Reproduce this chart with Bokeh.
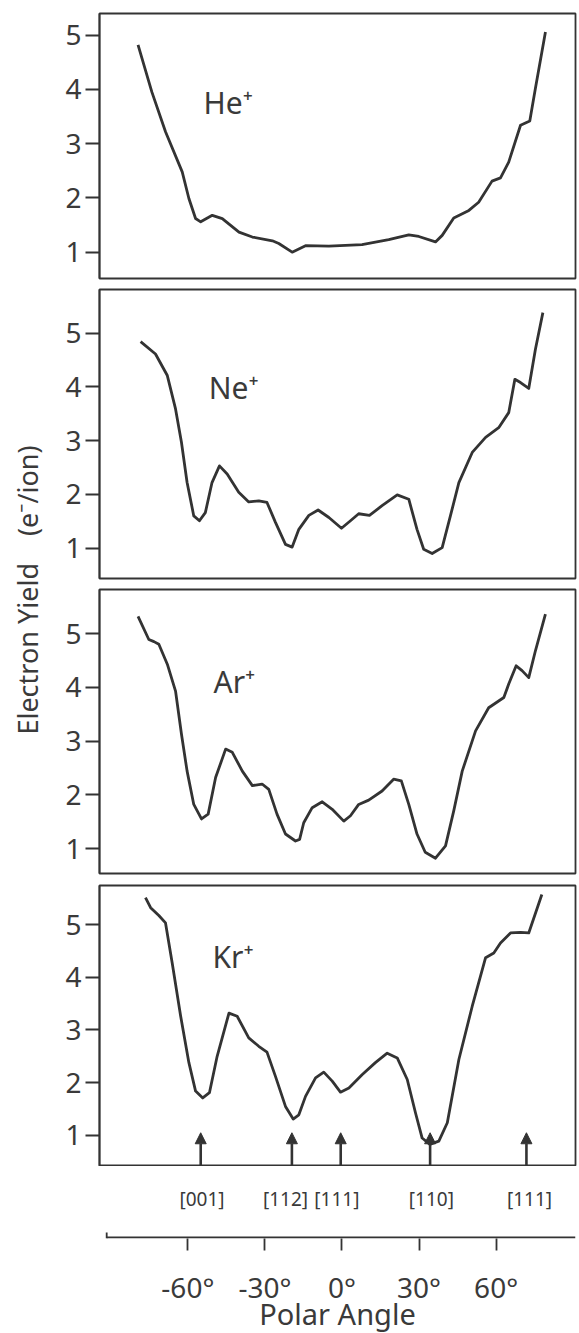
from bokeh.plotting import figure
from bokeh.layouts import row, column
from bokeh.models import ColumnDataSource, FixedTicker, Arrow, NormalHead
from bokeh.core.properties import value
from bokeh.embed import file_html
from bokeh.resources import INLINE

# ---------------- data ----------------
he_angle = [-79.4, -74.0, -68.7, -62.2, -59.6, -57.0, -55.0, -50.5, -46.6, -40.1, -34.9, -27.1, -24.6,
            -19.4, -14.2, -5.1, 7.8, 18.2, 26.0, 29.9, 36.4, 39.0, 43.5, 49.4, 53.2, 58.4, 61.7, 64.9,
            69.5, 73.1, 75.3, 79.2]
he_yield = [4.82, 3.95, 3.22, 2.48, 1.99, 1.62, 1.56, 1.68, 1.62, 1.37, 1.28, 1.21, 1.16,
            1.00, 1.12, 1.11, 1.14, 1.23, 1.32, 1.29, 1.19, 1.31, 1.63, 1.77, 1.92, 2.31, 2.37, 2.66,
            3.34, 3.42, 4.02, 5.06]

ne_angle = [-78.4, -72.6, -68.0, -64.8, -62.5, -60.3, -57.7, -55.5, -53.2, -50.6, -47.7, -44.7, -40.2,
            -36.3, -32.4, -29.2, -25.9, -22.0, -19.4, -16.8, -12.9, -9.3, -5.1, -0.2, 3.3, 6.5, 10.7,
            15.6, 21.5, 26.0, 29.2, 31.8, 35.1, 39.0, 42.2, 45.5, 50.7, 55.9, 61.0, 64.9, 67.3, 69.5,
            72.7, 75.3, 78.2]
ne_yield = [4.84, 4.61, 4.21, 3.59, 2.97, 2.22, 1.60, 1.51, 1.66, 2.22, 2.53, 2.38, 2.04,
            1.86, 1.88, 1.85, 1.48, 1.07, 1.02, 1.35, 1.61, 1.71, 1.57, 1.37, 1.51, 1.64, 1.61,
            1.79, 1.99, 1.91, 1.35, 0.98, 0.90, 1.01, 1.60, 2.22, 2.78, 3.06, 3.24, 3.52, 4.14, 4.08,
            3.97, 4.70, 5.38]

ar_angle = [-79.4, -75.2, -73.2, -71.3, -68.0, -64.8, -62.5, -60.3, -57.7, -54.7, -52.1, -49.2, -45.3,
            -42.7, -38.8, -34.9, -31.1, -28.5, -25.3, -22.0, -18.1, -16.5, -14.9, -11.6, -7.7, -3.8,
            0.7, 3.3, 6.5, 10.4, 15.6, 20.1, 23.1, 26.0, 29.2, 32.4, 36.4, 40.3, 43.5, 46.8, 52.0,
            57.1, 63.0, 64.9, 67.8, 70.1, 72.7, 75.3, 79.2]
ar_yield = [5.32, 4.89, 4.85, 4.80, 4.43, 3.93, 3.13, 2.44, 1.82, 1.55, 1.64, 2.32, 2.85,
            2.79, 2.44, 2.17, 2.20, 2.10, 1.64, 1.27, 1.14, 1.17, 1.48, 1.76, 1.87, 1.73,
            1.51, 1.61, 1.82, 1.90, 2.07, 2.29, 2.26, 1.82, 1.27, 0.93, 0.82, 1.05, 1.70, 2.44, 3.19,
            3.62, 3.81, 4.06, 4.40, 4.31, 4.18, 4.68, 5.36]

kr_angle = [-76.5, -74.5, -71.3, -68.7, -66.1, -62.8, -59.6, -57.0, -54.2, -51.6, -48.6, -44.0, -40.8,
            -36.3, -32.4, -29.2, -25.9, -22.0, -19.0, -16.8, -14.2, -10.3, -7.1, -3.8, -0.6, 2.7,
            7.8, 13.0, 17.6, 21.5, 25.4, 28.6, 31.2, 34.2, 37.7, 41.0, 45.5, 50.7, 55.9, 59.1, 61.7,
            65.6, 69.5, 72.7, 77.8]
kr_yield = [5.51, 5.32, 5.17, 5.03, 4.27, 3.26, 2.38, 1.84, 1.71, 1.81, 2.50, 3.32, 3.26,
            2.85, 2.69, 2.58, 2.12, 1.55, 1.31, 1.39, 1.74, 2.09, 2.20, 2.03, 1.82, 1.90,
            2.15, 2.38, 2.56, 2.47, 2.06, 1.43, 0.95, 0.83, 0.89, 1.24, 2.44, 3.45, 4.37, 4.46, 4.65,
            4.84, 4.85, 4.84, 5.57]

ion_names = ["He⁺", "Ne⁺", "Ar⁺", "Kr⁺"]
y_ticks = [1, 2, 3, 4, 5]

direction_angle = [-55.0, -19.5, -0.5, 34.3, 71.8]
direction_label = ["[001]", "[112]", "[111]", "[110]", "[111]"]
direction_label_angle = [-54.5, -22.0, -2.0, 34.8, 73.0]
arrow_tip_yield = 1.05

x_ticks = [-60, -30, 0, 30, 60]
x_tick_labels = ["-60°", "-30°", "0°", "30°", "60°"]
x_axis_extent = [-91.6, 90.9]

y_label = "Electron Yield\u2003(e⁻/ion)"
x_label = "Polar Angle"

# ---------------- style ----------------
FONT = "Noto Sans"
INK = "#333333"
TXT = "#3a3a3a"
LABEL_W = 50
BORDER_L = 99 - LABEL_W
PANEL_X = (-94.4, 90.9)
TOTAL_H = 1333
YLABEL_CENTER = 589.5

panel_specs = [
    # (angles, yields, y_range, frame_h, border_top, border_bottom, label_xy)
    (he_angle, he_yield, (0.515, 5.40), 265, 13, 5, (-53.9, 3.76)),
    (ne_angle, ne_yield, (0.436, 5.81), 289, 6, 5, (-51.9, 3.99)),
    (ar_angle, ar_yield, (0.535, 5.82), 284, 6, 6, (-50.0, 4.11)),
    (kr_angle, kr_yield, (0.41, 5.74), 281, 6, 0, (-50.4, 4.40)),
]

panels = []
for i, (ang, yl, yr, fh, bt, bb, lxy) in enumerate(panel_specs):
    p = figure(frame_width=476, frame_height=fh, x_range=PANEL_X, y_range=yr,
               x_axis_location=None, y_axis_location="left",
               toolbar_location=None, output_backend="svg",
               min_border_left=BORDER_L, min_border_right=4,
               min_border_top=bt, min_border_bottom=bb)
    p.grid.visible = False
    p.outline_line_color = INK
    p.outline_line_width = 1.8
    p.background_fill_color = "white"
    p.border_fill_color = "white"
    ax = p.yaxis[0]
    ax.ticker = FixedTicker(ticks=y_ticks)
    ax.major_tick_out = 14
    ax.major_tick_in = 0
    ax.minor_tick_line_color = None
    ax.major_tick_line_color = INK
    ax.major_tick_line_width = 1.8
    ax.axis_line_color = INK
    ax.axis_line_width = 1.8
    ax.major_label_standoff = 4
    ax.major_label_text_font = FONT
    ax.major_label_text_font_size = "28px"
    ax.major_label_text_color = TXT
    ax.axis_label_standoff = 0
    ax.axis_label_text_font_size = "0px"

    src = ColumnDataSource(dict(angle=ang, yld=yl))
    p.line("angle", "yld", source=src, line_color=INK, line_width=2.8, line_join="round")

    p.text(x=[lxy[0]], y=[lxy[1]], text=[ion_names[i]], text_font=value(FONT),
           text_font_size="30px", text_color=TXT, text_align="left",
           text_baseline="alphabetic")

    if i == 3:
        asrc = ColumnDataSource(dict(x0=direction_angle, y0=[yr[0]] * len(direction_angle),
                                     x1=direction_angle, y1=[arrow_tip_yield] * len(direction_angle)))
        p.add_layout(Arrow(source=asrc, x_start="x0", y_start="y0", x_end="x1", y_end="y1",
                           line_color=INK, line_width=2.6,
                           end=NormalHead(size=11, fill_color=INK, line_color=INK, line_width=1)))
    panels.append(p)

# bottom axis figure
pb = figure(frame_width=476, frame_height=72, x_range=PANEL_X, y_range=(-1, 71),
            y_axis_location=None, x_axis_location="below",
            toolbar_location=None, output_backend="svg",
            min_border_left=BORDER_L, min_border_right=4, min_border_top=0, min_border_bottom=95)
pb.grid.visible = False
pb.outline_line_color = None
xa = pb.xaxis[0]
xa.ticker = FixedTicker(ticks=x_ticks)
xa.major_label_overrides = {t: s for t, s in zip(x_ticks, x_tick_labels)}
xa.major_tick_out = 12
xa.major_tick_in = 0
xa.minor_tick_line_color = None
xa.major_tick_line_color = INK
xa.major_tick_line_width = 1.8
xa.axis_line_color = None
xa.major_label_standoff = 17
xa.major_label_text_font = FONT
xa.major_label_text_font_size = "28px"
xa.major_label_text_color = TXT
xa.axis_label = x_label
xa.axis_label_text_font = FONT
xa.axis_label_text_font_size = "29px"
xa.axis_label_text_font_style = "normal"
xa.axis_label_text_color = TXT
xa.axis_label_standoff = -15
pb.segment(x0=[x_axis_extent[0]], y0=[0], x1=[x_axis_extent[1]], y1=[0], line_color=INK, line_width=1.8)
pb.segment(x0=[x_axis_extent[0]], y0=[-1], x1=[x_axis_extent[0]], y1=[5], line_color=INK, line_width=1.8)
pb.text(x=direction_label_angle, y=[39] * 5, text=direction_label, text_font=value(FONT),
        text_font_size="19px", text_color=TXT, text_align="center", text_baseline="middle")

# y label: an axis label on a thin figure to the left
pl = figure(width=LABEL_W, height=TOTAL_H, x_range=(0, 1), y_range=(0, 1),
            x_axis_location=None, y_axis_location="left", toolbar_location=None,
            output_backend="svg", min_border_left=45, min_border_right=0,
            min_border_top=0, min_border_bottom=int(TOTAL_H - 2 * YLABEL_CENTER))
pl.grid.visible = False
pl.outline_line_color = None
ya = pl.yaxis[0]
ya.ticker = FixedTicker(ticks=[])
ya.axis_line_color = None
ya.major_tick_line_color = None
ya.minor_tick_line_color = None
ya.major_label_text_font_size = "0px"
ya.major_label_standoff = 0
ya.major_tick_out = 0
ya.axis_label = y_label
ya.axis_label_standoff = 0
ya.axis_label_text_font = FONT
ya.axis_label_text_font_size = "27px"
ya.axis_label_text_font_style = "normal"
ya.axis_label_text_color = TXT

layout = row(pl, column(*panels, pb, spacing=0), spacing=0)
open("out.html", "w").write(file_html(layout, INLINE))
